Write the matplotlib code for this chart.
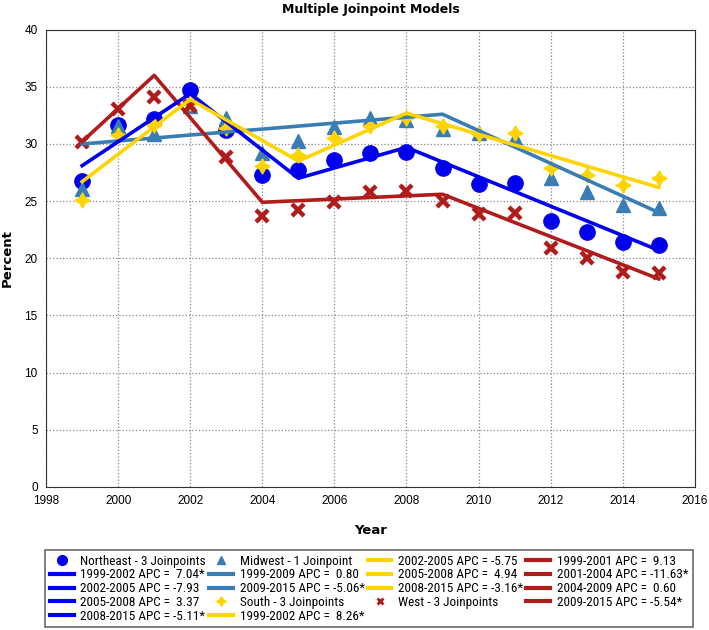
import matplotlib.pyplot as plt
from matplotlib.lines import Line2D

years = list(range(1999, 2016))

# observed percentages
northeast = [26.8, 31.7, 32.2, 34.7, 31.2, 27.3, 27.7, 28.6, 29.2, 29.3, 27.9, 26.5, 26.6, 23.3, 22.3, 21.4, 21.2]
midwest = [26.1, 31.6, 30.9, 33.3, 32.3, 29.2, 30.3, 31.5, 32.3, 32.1, 31.3, 31.0, 30.5, 27.0, 25.8, 24.7, 24.4]
south = [25.1, 30.8, 31.7, 33.6, 31.4, 28.1, 29.0, 30.5, 31.6, 32.3, 31.6, 30.9, 31.0, 27.9, 27.3, 26.4, 27.0]
west = [30.2, 33.1, 34.1, 33.3, 28.9, 23.7, 24.2, 24.9, 25.8, 25.9, 25.0, 23.9, 24.0, 20.9, 20.0, 18.8, 18.7]

# joinpoint model fits
ne_fit_x = [1999, 2002, 2005, 2008, 2015]
ne_fit_y = [28.1, 34.4, 27.0, 29.7, 20.7]
mw_fit_x = [1999, 2009, 2015]
mw_fit_y = [30.0, 32.6, 24.0]
so_fit_x = [1999, 2002, 2005, 2008, 2015]
so_fit_y = [26.7, 33.9, 28.5, 32.7, 26.2]
we_fit_x = [1999, 2001, 2004, 2009, 2015]
we_fit_y = [30.2, 36.0, 24.9, 25.6, 18.2]

ne_labels = ['1999-2002 APC =  7.04*', '2002-2005 APC = -7.93', '2005-2008 APC =  3.37', '2008-2015 APC = -5.11*']
mw_labels = ['1999-2009 APC =  0.80', '2009-2015 APC = -5.06*']
so_labels = ['1999-2002 APC =  8.26*', '2002-2005 APC = -5.75', '2005-2008 APC =  4.94', '2008-2015 APC = -3.16*']
we_labels = ['1999-2001 APC =  9.13', '2001-2004 APC = -11.63*', '2004-2009 APC =  0.60', '2009-2015 APC = -5.54*']

c_ne = '#0000EE'
c_mw = '#3A7DB5'
c_so = '#FFD400'
c_we = '#B01C1C'

fig = plt.figure(figsize=(7.09, 6.3), dpi=100)
ax = fig.add_axes([0.065, 0.227, 0.915, 0.726])

ax.plot(years, northeast, 'o', color=c_ne, ms=11, zorder=3)
ax.plot(years, midwest, '^', color=c_mw, ms=10, zorder=3)
ax.plot(years, south, marker=(4, 1, 0), ls='none', color=c_so, ms=11, zorder=3)
ax.plot(years, west, 'x', color=c_we, ms=9, mew=3.2, zorder=3)

ax.plot(mw_fit_x, mw_fit_y, color=c_mw, lw=2.6, zorder=4)
ax.plot(we_fit_x, we_fit_y, color=c_we, lw=2.6, zorder=4)
ax.plot(ne_fit_x, ne_fit_y, color=c_ne, lw=2.6, zorder=4)
ax.plot(so_fit_x, so_fit_y, color=c_so, lw=2.6, zorder=4)

ax.set_xlim(1998, 2016)
ax.set_ylim(0, 40)
ax.set_xticks(range(1998, 2017, 2))
ax.set_yticks(range(0, 41, 5))
ax.grid(True, ls=':', color='#888888', lw=0.9)
ax.tick_params(length=0, labelsize=8.5, pad=6)
for t in ax.get_xticklabels() + ax.get_yticklabels():
    t.set_family('Liberation Sans')
for s in ax.spines.values():
    s.set_color('#333333')
ax.set_title('Multiple Joinpoint Models', fontsize=9, fontweight='bold', pad=12)
ax.set_xlabel('Year', fontsize=9.5, fontweight='bold', labelpad=12)
ax.set_ylabel('Percent', fontsize=9.5, fontweight='bold', labelpad=8)

# legend, filled column by column
def mk(marker, color, ms, mew=1):
    return Line2D([], [], ls='none', marker=marker, color=color, ms=ms, mew=mew)

def ln(color):
    return Line2D([], [], color=color, lw=3)

handles = [mk('o', c_ne, 7)] + [ln(c_ne)] * 4
labels = ['Northeast - 3 Joinpoints'] + ne_labels
handles += [mk('^', c_mw, 6)] + [ln(c_mw)] * 2 + [mk((4, 1, 0), c_so, 7)] + [ln(c_so)]
labels += ['Midwest - 1 Joinpoint'] + mw_labels + ['South - 3 Joinpoints'] + so_labels[:1]
handles += [ln(c_so)] * 3 + [mk('x', c_we, 5, 2)]
labels += so_labels[1:] + ['West - 3 Joinpoints']
handles += [ln(c_we)] * 4
labels += we_labels

leg = fig.legend(handles, labels, loc='lower left', bbox_to_anchor=(0.064, 0.004, 0.913, 0.115),
                 mode='expand', ncol=4, fancybox=False, edgecolor='#444444', handlelength=1.8,
                 labelspacing=0.06, borderpad=0.35, borderaxespad=0.0, columnspacing=0.8,
                 handletextpad=0.5, prop={'family': 'Roboto Condensed', 'size': 9.5})
leg.get_frame().set_linewidth(1.2)

fig.savefig('out.png', dpi=100)
